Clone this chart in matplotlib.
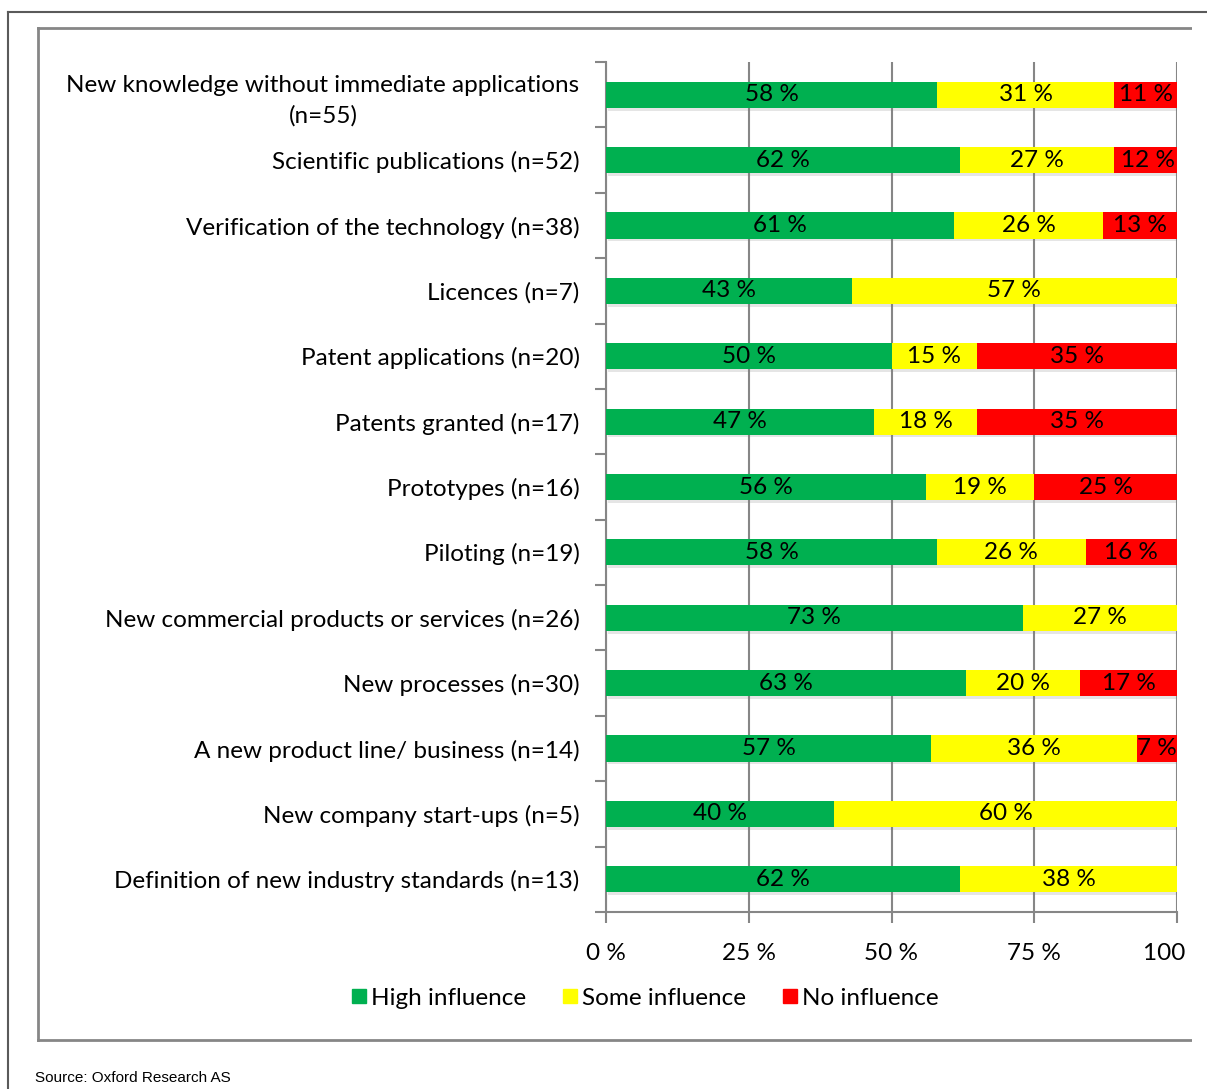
import matplotlib.pyplot as plt
import matplotlib.patheffects as pe
from matplotlib.lines import Line2D
from matplotlib.patches import Rectangle

categories = [
    'New knowledge without immediate applications\n(n=55)',
    'Scientific publications (n=52)',
    'Verification of the technology (n=38)',
    'Licences (n=7)',
    'Patent applications (n=20)',
    'Patents granted (n=17)',
    'Prototypes (n=16)',
    'Piloting (n=19)',
    'New commercial products or services (n=26)',
    'New processes (n=30)',
    'A new product line/ business (n=14)',
    'New company start-ups (n=5)',
    'Definition of new industry standards (n=13)',
]
high = [58, 62, 61, 43, 50, 47, 56, 58, 73, 63, 57, 40, 62]
some = [31, 27, 26, 57, 15, 18, 19, 26, 27, 20, 36, 60, 38]
none = [11, 12, 13, 0, 35, 35, 25, 16, 0, 17, 7, 0, 0]

series_names = ['High influence', 'Some influence', 'No influence']
colors = ['#00B050', '#FFFF00', '#FF0000']
xticks = [0, 25, 50, 75, 100]

plt.rcParams['font.family'] = ['Lato', 'DejaVu Sans']
FS = 17.5

W, H = 1207, 1089
fig = plt.figure(figsize=(W / 100, H / 100), dpi=100)
ax = fig.add_axes([606 / W, 1 - 912 / H, (1177 - 606) / W, (912 - 62) / H])

n = len(categories)
ypos = list(range(n))
shadow = [pe.SimplePatchShadow(offset=(1.5, -2), shadow_rgbFace='#7f7f7f', alpha=0.2), pe.Normal()]

left = [0] * n
for vals, col in zip([high, some, none], colors):
    bars = ax.barh(ypos, vals, left=left, height=0.4, color=col, zorder=3)
    for b, v, l in zip(bars, vals, left):
        b.set_path_effects(shadow)
        if v > 0:
            ax.text(l + v / 2, b.get_y() + b.get_height() / 2, f'{v} %',
                    ha='center', va='center', fontsize=FS, zorder=4)
    left = [a + b for a, b in zip(left, vals)]

ax.set_xlim(0, 100)
ax.set_ylim(n - 0.5, -0.5)
ax.set_xticks(xticks)
ax.set_xticklabels([f'{t} %' for t in xticks], fontsize=FS)
ax.set_yticks(ypos)
ax.set_yticklabels(categories, fontsize=FS, multialignment='center', linespacing=1.5)
ax.set_yticks([i - 0.5 for i in range(n + 1)], minor=True)

for s in ['top', 'right']:
    ax.spines[s].set_visible(False)
for s in ['left', 'bottom']:
    ax.spines[s].set_color('#868686')
    ax.spines[s].set_linewidth(1.5)

ax.grid(axis='x', color='#868686', linewidth=1.5, zorder=0)
ax.tick_params(axis='y', which='major', length=0, pad=19)
ax.tick_params(axis='y', which='minor', length=8, width=1.5, color='#868686')
ax.tick_params(axis='x', length=8, width=1.5, color='#868686', pad=14)

handles = [Line2D([], [], marker='s', linestyle='', markersize=10,
                  markerfacecolor=c, markeredgecolor=c) for c in colors]
fig.legend(handles, series_names, loc='center', bbox_to_anchor=(644 / W, 1 - 998 / H),
           ncol=3, frameon=False, fontsize=FS, handletextpad=0.1, columnspacing=1.4,
           handlelength=0.8)

# frames around the chart
gray = '#868686'
fig.add_artist(Line2D([38 / W, 38 / W], [1 - 28 / H, 1 - 1040 / H], color=gray, lw=2))
fig.add_artist(Line2D([38 / W, 1192 / W], [1 - 28 / H, 1 - 28 / H], color=gray, lw=2))
fig.add_artist(Line2D([38 / W, 1192 / W], [1 - 1040 / H, 1 - 1040 / H], color=gray, lw=2))
fig.add_artist(Rectangle((1192 / W, 0), 15 / W, 1, transform=fig.transFigure,
                         facecolor='white', edgecolor='none', zorder=10))
fig.add_artist(Line2D([8 / W, 8 / W], [0, 1 - 12 / H], color='#5a5a5a', lw=1.5, zorder=11))
fig.add_artist(Line2D([8 / W, 1], [1 - 12 / H, 1 - 12 / H], color='#5a5a5a', lw=1.5, zorder=11))

fig.text(35 / W, 1 - 1078 / H, 'Source: Oxford Research AS', fontsize=11,
         family='Liberation Sans', va='center', ha='left')

fig.savefig('out.png', dpi=100)
